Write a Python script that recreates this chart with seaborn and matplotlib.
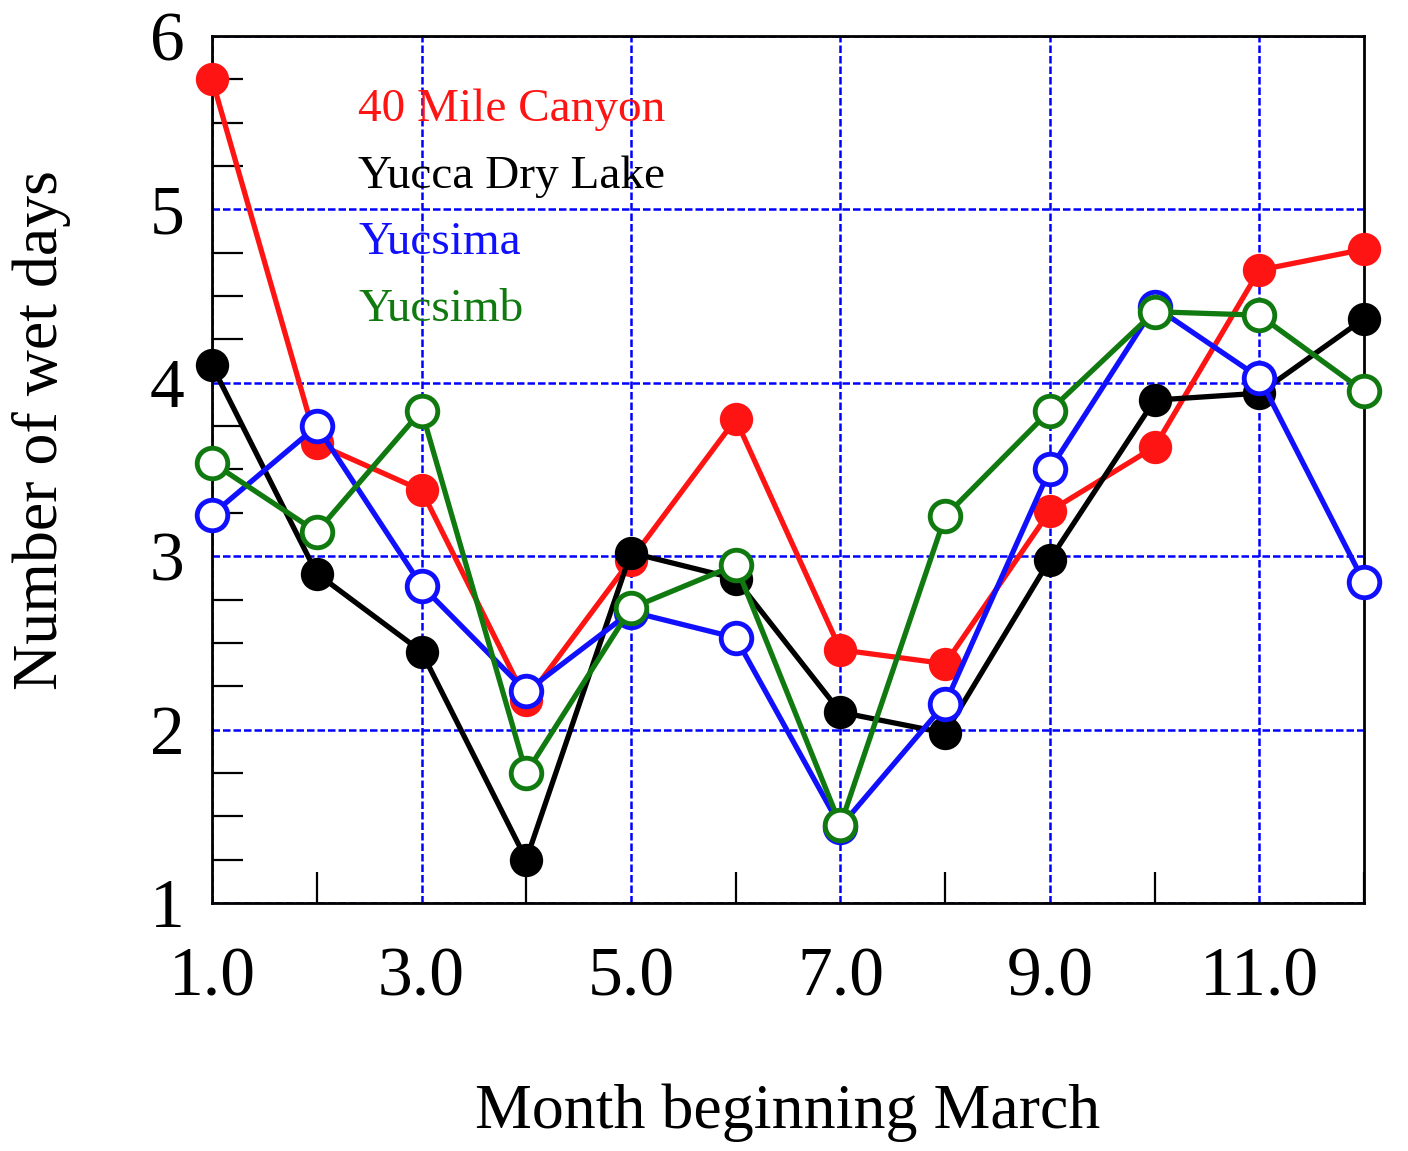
import matplotlib
matplotlib.use("Agg")
import matplotlib.pyplot as plt
import seaborn as sns
import pandas as pd
from matplotlib.ticker import MultipleLocator, FixedLocator
from matplotlib.lines import Line2D

# ---- data ----
months = [1, 2, 3, 4, 5, 6, 7, 8, 9, 10, 11, 12]
mile40_canyon = [5.75, 3.65, 3.38, 2.17, 2.98, 3.79, 2.46, 2.38, 3.26, 3.63, 4.65, 4.77]
yucca_dry_lake = [4.10, 2.90, 2.45, 1.25, 3.02, 2.87, 2.10, 1.98, 2.98, 3.90, 3.94, 4.37]
yucsima = [3.24, 3.75, 2.83, 2.22, 2.68, 2.53, 1.44, 2.15, 3.50, 4.44, 4.03, 2.85]
yucsimb = [3.54, 3.14, 3.84, 1.75, 2.70, 2.95, 1.45, 3.23, 3.84, 4.41, 4.39, 3.95]

series_names = ["40 Mile Canyon", "Yucca Dry Lake", "Yucsima", "Yucsimb"]
series_values = [mile40_canyon, yucca_dry_lake, yucsima, yucsimb]
series_colors = ["#ff1414", "#000000", "#1010ff", "#107a10"]
series_filled = [True, True, False, False]

xtick_values = [1, 3, 5, 7, 9, 11]
xtick_labels = ["1.0", "3.0", "5.0", "7.0", "9.0", "11.0"]
ytick_values = [1, 2, 3, 4, 5, 6]
ytick_labels = ["1", "2", "3", "4", "5", "6"]

# ---- style ----
sns.set_style("ticks")
plt.rcParams["font.family"] = ["Liberation Serif", "DejaVu Serif"]
plt.rcParams["text.color"] = "black"
plt.rcParams["axes.labelcolor"] = "black"

fig = plt.figure(figsize=(14.08, 11.51), dpi=100)
ax = fig.add_axes([0.1506, 0.2155, 0.8182, 0.7532])

order = [1, 0, 2, 3]
for i in order:
    df = pd.DataFrame({"month": months, "value": series_values[i]})
    c = series_colors[i]
    sns.lineplot(
        data=df, x="month", y="value", ax=ax, color=c, linewidth=3.8,
        marker="o", markersize=24 if series_filled[i] else 22,
        markerfacecolor=c if series_filled[i] else "white",
        markeredgecolor=c, markeredgewidth=0 if series_filled[i] else 3.5,
        clip_on=False, zorder=3 + i, legend=False,
    )

ax.set_xlim(1, 12)
ax.set_ylim(1, 6)

ax.xaxis.set_major_locator(FixedLocator(xtick_values))
ax.set_xticklabels(xtick_labels)
ax.xaxis.set_minor_locator(FixedLocator([2, 4, 6, 8, 10, 12]))
ax.yaxis.set_major_locator(FixedLocator(ytick_values))
ax.set_yticklabels(ytick_labels)
ax.yaxis.set_minor_locator(MultipleLocator(0.25))

ax.tick_params(which="both", direction="in", width=1.6, colors="black", labelcolor="black")
ax.tick_params(axis="x", which="major", length=0, labelsize=50, pad=32)
ax.tick_params(axis="y", which="major", length=0, labelsize=50, pad=20)
ax.tick_params(axis="x", which="minor", length=22)
ax.tick_params(axis="y", which="minor", length=22)

ax.grid(which="major", color="#0000ff", linestyle=(0, (3, 1.2)), linewidth=1.8)
ax.set_axisbelow(True)
for sp in ax.spines.values():
    sp.set_linewidth(2.0)
    sp.set_color("black")
    sp.set_zorder(2.5)

ax.set_xlabel("Month beginning March", fontsize=46, color="black")
ax.xaxis.set_label_coords(0.5, -0.208)
ax.set_ylabel("Number of wet days", fontsize=46, color="black")
ax.yaxis.set_label_coords(-0.122, 0.545)

hs = [Line2D([], [], color=c) for c in series_colors]
leg = ax.legend(hs, series_names, loc="upper left", bbox_to_anchor=(0.127, 0.94),
                frameon=False, handlelength=0, handletextpad=0, borderpad=0,
                borderaxespad=0, labelspacing=0.5, fontsize=34)
for h in leg.legend_handles:
    h.set_visible(False)
for t, c in zip(leg.get_texts(), series_colors):
    t.set_color(c)

fig.savefig("out.png", dpi=100, facecolor="white")
